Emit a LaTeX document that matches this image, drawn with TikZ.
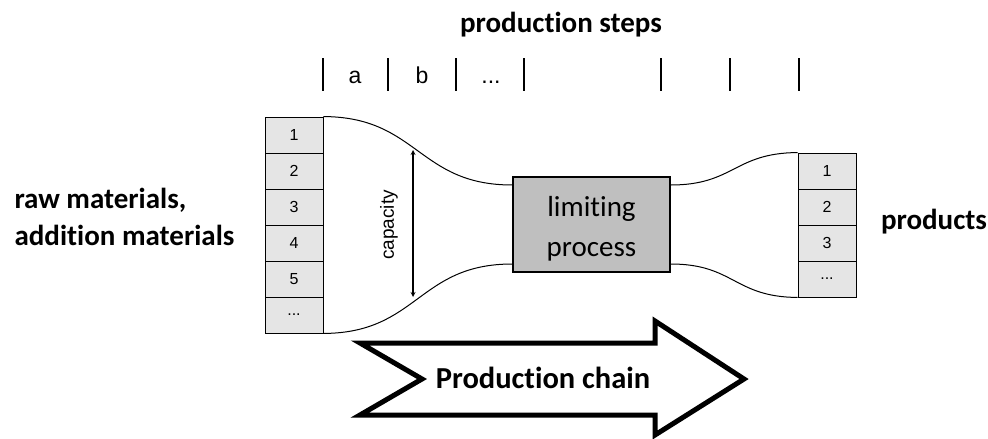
\documentclass[tikz,border=0pt]{standalone}
\usepackage{fontspec}
\setmainfont[Ligatures=NoCommon]{Carlito}
\newfontfamily\arialf{Liberation Sans}
\begin{document}
\begin{tikzpicture}[x=1pt,y=-1pt,
  cell/.style={draw, fill=black!10, line width=0.9pt, minimum width=58pt, minimum height=36pt, inner sep=0pt, font=\arialf\fontsize{16}{18}\selectfont},
  flow/.style={line width=1pt},
  tick/.style={line width=1.6pt},
  steplbl/.style={font=\arialf\fontsize{23}{26}\selectfont},
  boldlbl/.style={font=\bfseries\fontsize{29}{37}\selectfont}]
\useasboundingbox (0,0) rectangle (988,439);
% title
\node[boldlbl] (title) at (561,25) {production steps};
% ticks
\foreach \x [count=\i] in {323,388,456,524,661,730,799} {
  \coordinate (t\i a) at (\x,58);
  \coordinate (t\i b) at (\x,91);
  \draw[tick] (t\i a) -- (t\i b);
}
\node[steplbl, anchor=base] (sa) at (355,83) {a};
\node[steplbl, anchor=base] (sb) at (422,83) {b};
\node[steplbl, anchor=base] (sc) at (491,83) {...};
% left stack
\node[cell] (L1) at (294,135) {1};
\node[cell] (L2) at (294,171) {2};
\node[cell] (L3) at (294,207) {3};
\node[cell] (L4) at (294,243) {4};
\node[cell] (L5) at (294,279) {5};
\node[cell] (L6) at (294,315) {...};
% right stack
\node[cell] (R1) at (827,171) {1};
\node[cell] (R2) at (827,207) {2};
\node[cell] (R3) at (827,243) {3};
\node[cell] (R4) at (827,279) {...};
% limiting process
\node[draw, fill=black!25, line width=1.6pt, minimum width=157pt, minimum height=95pt, inner sep=0pt] (lp) at (591.5,224.5) {};
\node[align=center, font=\fontsize{29}{40}\selectfont] (lpt) at ([yshift=-4pt]lp.center) {limiting\\process};
% curves
\coordinate (lpTL) at ([yshift=39.5pt]lp.west);
\coordinate (lpBL) at ([yshift=-39.5pt]lp.west);
\coordinate (lpTR) at ([yshift=39.5pt]lp.east);
\coordinate (lpBR) at ([yshift=-39.5pt]lp.east);
\draw[flow] (L1.north east) .. controls (418,117) and (418,185) .. (lpTL);
\draw[flow] (L6.south east) .. controls (418,333) and (418,264) .. (lpBL);
\draw[flow] (lpTR) .. controls (734,185) and (734,153) .. (R1.north west);
\draw[flow] (lpBR) .. controls (734,264) and (734,297) .. (R4.south west);
% capacity
\coordinate (capT) at (413,150);
\coordinate (capB) at (413,297);
\draw[line width=1.2pt, <->, >=stealth] (capT) -- (capB);
\node[rotate=90, font=\arialf\fontsize{19}{22}\selectfont] (cap) at (389,225) {capacity};
% side labels
\node[boldlbl, align=left, anchor=west] (raw) at (11,217) {raw materials,\\addition materials};
\node[boldlbl] (prod) at (934,222) {products};
% production chain arrow
\draw[line width=5pt, line join=miter, fill=white] (360,343) -- (655,343) -- (655,321) -- (744,379) -- (655,435) -- (655,415) -- (360,415) -- (422,379) -- cycle;
\node[font=\bfseries\fontsize{30.5}{34}\selectfont] (pc) at (543,378) {Production chain};
\end{tikzpicture}
\end{document}
